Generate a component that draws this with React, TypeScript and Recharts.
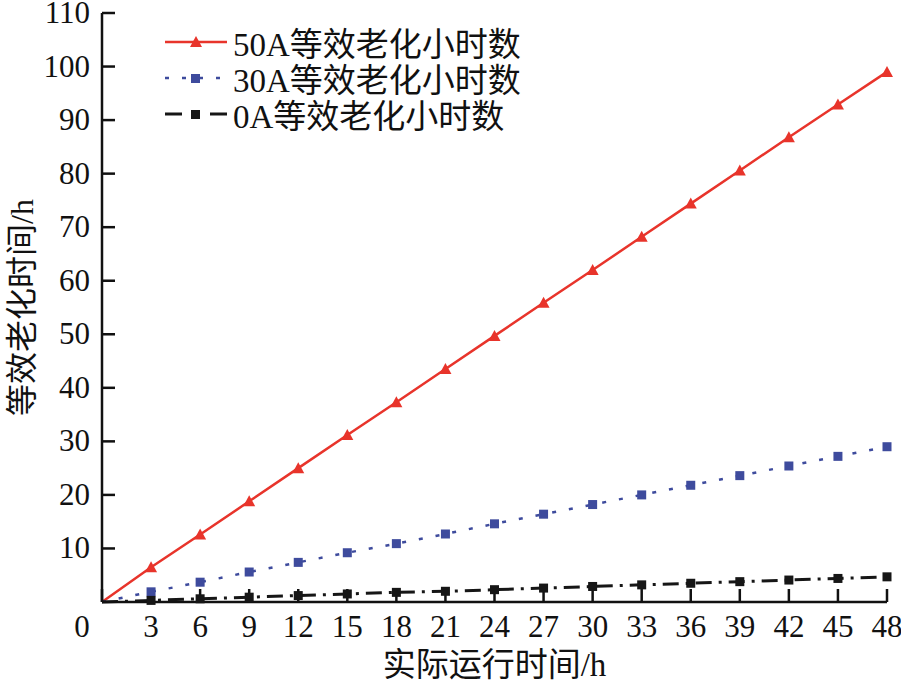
import { CartesianGrid, Legend, Line, LineChart, XAxis, YAxis } from 'recharts';

const hours = [0, 3, 6, 9, 12, 15, 18, 21, 24, 27, 30, 33, 36, 39, 42, 45, 48];
const aged50A = [0, 6.5, 12.6, 18.8, 25.0, 31.2, 37.3, 43.5, 49.7, 55.9, 62.0, 68.2, 74.4, 80.6, 86.8, 92.9, 99.0];
const aged30A = [0, 1.9, 3.7, 5.6, 7.4, 9.2, 10.9, 12.7, 14.6, 16.4, 18.2, 20.0, 21.8, 23.6, 25.4, 27.2, 29.0];
const aged0A = [0, 0.3, 0.6, 0.9, 1.2, 1.5, 1.8, 2.0, 2.3, 2.6, 2.9, 3.2, 3.5, 3.8, 4.1, 4.4, 4.7];
const xTicks = [0, 3, 6, 9, 12, 15, 18, 21, 24, 27, 30, 33, 36, 39, 42, 45, 48];
const yTicks = [10, 20, 30, 40, 50, 60, 70, 80, 90, 100, 110];
const seriesNames = ['50A等效老化小时数', '30A等效老化小时数', '0A等效老化小时数'];

const RED = '#e8342b';
const BLUE = '#3e4b9d';
const BLACK = '#161616';
const FONT = '"Liberation Serif", "Noto Sans CJK SC", serif';

const data = hours.map((h, i) => ({ h, a50: aged50A[i], a30: aged30A[i], a0: aged0A[i] }));

const triangleDot = (props: any) => {
  const { cx, cy, index } = props;
  if (index === 0) return <g key={`t${index}`} />;
  return <polygon key={`t${index}`} points={`${cx},${cy - 6} ${cx - 6},${cy + 5} ${cx + 6},${cy + 5}`} fill={RED} />;
};

const squareDot = (color: string, size: number) => (props: any) => {
  const { cx, cy, index } = props;
  if (index === 0) return <g key={`s${index}`} />;
  return <rect key={`s${index}`} x={cx - size / 2} y={cy - size / 2} width={size} height={size} fill={color} />;
};

const xTick = (props: any) => {
  const { x, y, payload } = props;
  const dx = payload.value === 0 ? -20 : 0;
  return (
    <text x={x + dx} y={y} dy={22} textAnchor="middle" fontSize={31} fontFamily={FONT} fill="#111">
      {payload.value}
    </text>
  );
};

const yTick = (props: any) => {
  const { x, y, payload } = props;
  return (
    <text x={x} y={y} dy={10} textAnchor="end" fontSize={31} fontFamily={FONT} fill="#111">
      {payload.value}
    </text>
  );
};

function Sample({ kind }: { kind: number }) {
  return (
    <svg width={62} height={20} style={{ marginRight: 6 }}>
      {kind === 0 && (
        <>
          <line x1={0} y1={10} x2={62} y2={10} stroke={RED} strokeWidth={2.5} />
          <polygon points="31,4 25,15 37,15" fill={RED} />
        </>
      )}
      {kind === 1 && (
        <>
          <line x1={0} y1={10} x2={62} y2={10} stroke={BLUE} strokeWidth={2.5} strokeDasharray="4 13" />
          <rect x={26} y={6} width={9} height={9} fill={BLUE} />
        </>
      )}
      {kind === 2 && (
        <>
          <line x1={0} y1={10} x2={62} y2={10} stroke={BLACK} strokeWidth={3} strokeDasharray="17 28 17" />
          <rect x={26} y={6} width={9} height={9} fill={BLACK} />
        </>
      )}
    </svg>
  );
}

const renderLegend = () => (
  <div style={{ fontFamily: FONT, fontSize: 33, color: '#111' }}>
    {seriesNames.map((name, i) => (
      <div key={name} style={{ display: 'flex', alignItems: 'center', height: 36 }}>
        <Sample kind={i} />
        <span>{name}</span>
      </div>
    ))}
  </div>
);

export default function App() {
  return (
    <div style={{ position: 'absolute', left: 0, top: 0, background: '#fff' }}>
      <LineChart width={901} height={683} data={data} margin={{ top: 13, right: 14, bottom: 0, left: 42 }}>
        <CartesianGrid stroke="none" />
        <XAxis
          dataKey="h"
          type="number"
          domain={[0, 48]}
          ticks={xTicks}
          height={81}
          tickSize={-13}
          tickMargin={26}
          tick={xTick}
          axisLine={{ stroke: '#111', strokeWidth: 2.5 }}
          tickLine={{ stroke: '#111', strokeWidth: 2.5 }}
          label={{
            content: (p: any) => (
              <text
                x={p.viewBox.x + p.viewBox.width / 2}
                y={p.viewBox.y + 74}
                textAnchor="middle"
                fontSize={33}
                fontFamily={FONT}
                fill="#111"
              >
                实际运行时间/h
              </text>
            ),
          }}
        />
        <YAxis
          type="number"
          domain={[0, 110]}
          ticks={yTicks}
          width={60}
          tickSize={-13}
          tickMargin={25}
          tick={yTick}
          axisLine={{ stroke: '#111', strokeWidth: 2.5 }}
          tickLine={{ stroke: '#111', strokeWidth: 2.5 }}
          label={{
            content: (p: any) => {
              const cx = p.viewBox.x - 20;
              const cy = p.viewBox.y + p.viewBox.height / 2;
              return (
                <text
                  x={cx}
                  y={cy}
                  dy={11}
                  transform={`rotate(-90 ${cx} ${cy})`}
                  textAnchor="middle"
                  fontSize={32}
                  fontFamily={FONT}
                  fill="#111"
                >
                  等效老化时间/h
                </text>
              );
            },
          }}
        />
        <Legend
          content={renderLegend}
          layout="vertical"
          verticalAlign="middle"
          align="center"
          wrapperStyle={{ left: 165, top: 24, width: 'auto' }}
        />
        <Line dataKey="a50" stroke={RED} strokeWidth={2.5} dot={triangleDot} isAnimationActive={false} />
        <Line
          dataKey="a30"
          stroke={BLUE}
          strokeWidth={2.5}
          strokeDasharray="4 13"
          dot={squareDot(BLUE, 9)}
          isAnimationActive={false}
        />
        <Line
          dataKey="a0"
          stroke={BLACK}
          strokeWidth={3}
          strokeDasharray="16 7 3 7"
          dot={squareDot(BLACK, 9)}
          isAnimationActive={false}
        />
      </LineChart>
    </div>
  );
}
